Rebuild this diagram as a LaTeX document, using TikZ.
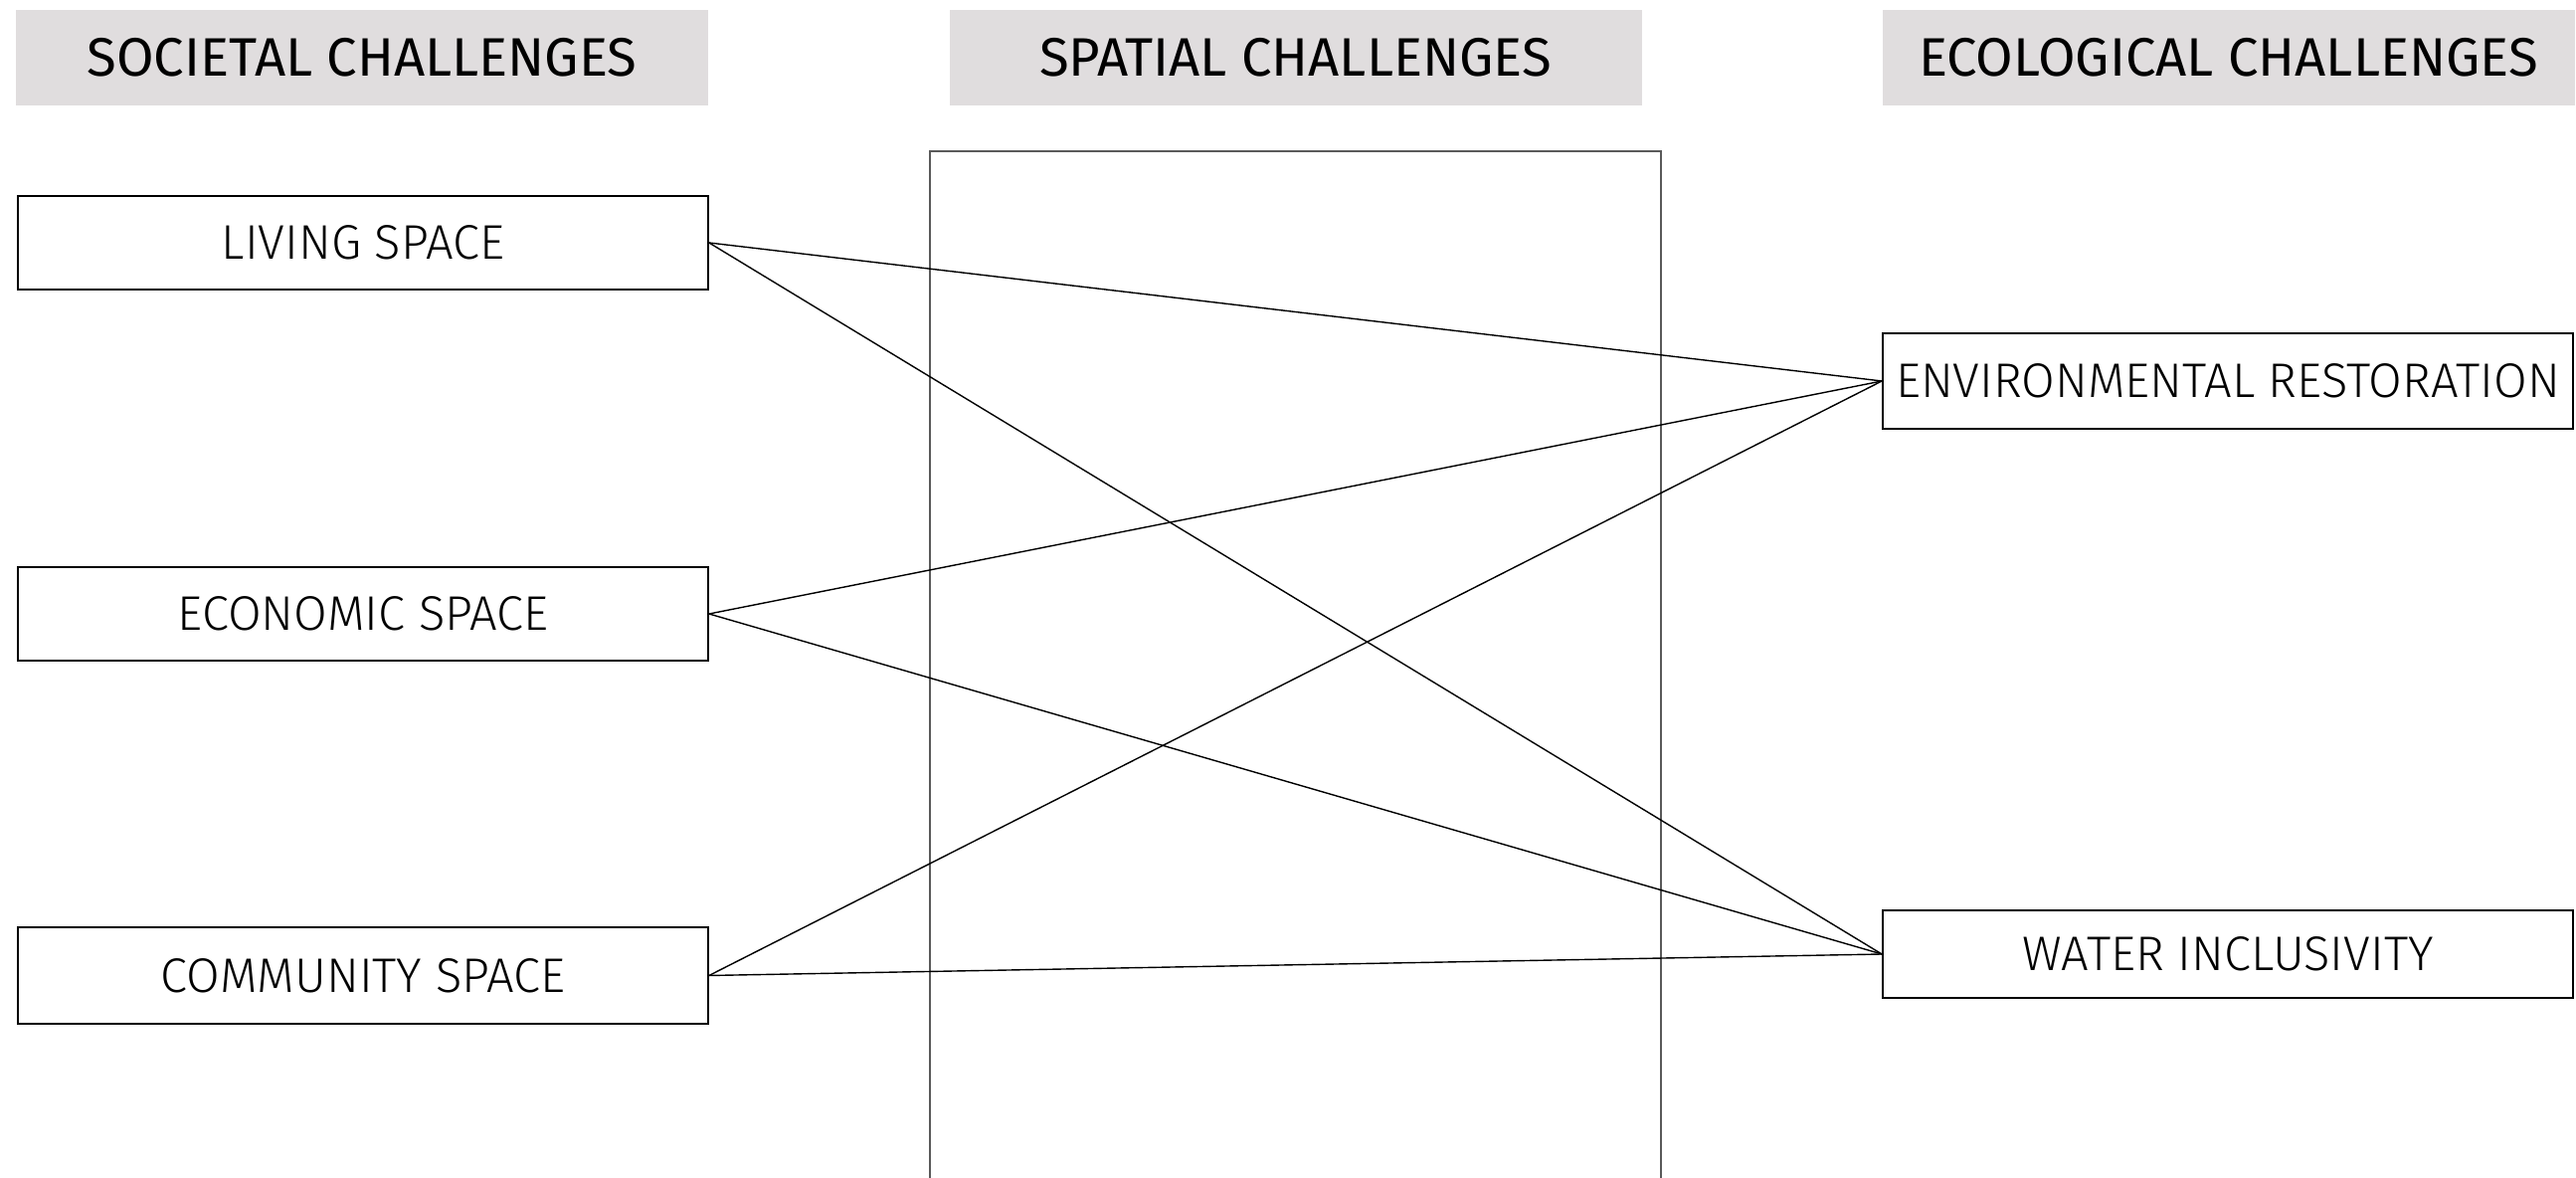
\documentclass[tikz,border=0pt]{standalone}
\usepackage{fontspec}
\setmainfont{Fira Sans Light}
\newfontfamily\hdrfont{Fira Sans}
\definecolor{hdrgrey}{RGB}{224,221,222}
\definecolor{midgrey}{RGB}{90,90,90}
\begin{document}
\begin{tikzpicture}[x=0.25pt,y=-0.25pt,
  hdr/.style={fill=hdrgrey,draw=none,minimum width=174pt,minimum height=24pt,inner sep=0pt,font=\hdrfont\fontsize{13.6}{15}\selectfont},
  boxnode/.style={draw=black,line width=0.45pt,fill=white,minimum width=173.5pt,inner sep=0pt,font=\fontsize{12.2}{14}\selectfont},
  link/.style={draw=black,line width=0.35pt}]
\useasboundingbox (0,0) rectangle (2590,1184);
\node[hdr] (h1) at (364,58) {SOCIETAL CHALLENGES};
\node[hdr] (h2) at (1302.5,58) {SPATIAL CHALLENGES};
\node[hdr] (h3) at (2240.5,58) {ECOLOGICAL CHALLENGES};
\coordinate (mbl) at (935,1184);
\coordinate (mtl) at (935,152);
\coordinate (mtr) at (1670,152);
\coordinate (mbr) at (1670,1184);
\draw[midgrey,line width=0.35pt] (mbl) -- (mtl) -- (mtr) -- (mbr);
\node[boxnode,minimum height=23.5pt] (liv) at (365,244) {LIVING SPACE};
\node[boxnode,minimum height=23.5pt] (eco) at (365,617) {ECONOMIC SPACE};
\node[boxnode,minimum height=24.25pt] (com) at (365,980.5) {COMMUNITY SPACE};
\node[boxnode,minimum height=24pt] (env) at (2240,383) {ENVIRONMENTAL RESTORATION};
\node[boxnode,minimum height=22pt] (wat) at (2240,959) {WATER INCLUSIVITY};
\draw[link] (liv.east) -- (env.west);
\draw[link] (liv.east) -- (wat.west);
\draw[link] (eco.east) -- (env.west);
\draw[link] (eco.east) -- (wat.west);
\draw[link] (com.east) -- (env.west);
\draw[link] (com.east) -- (wat.west);
\end{tikzpicture}
\end{document}
